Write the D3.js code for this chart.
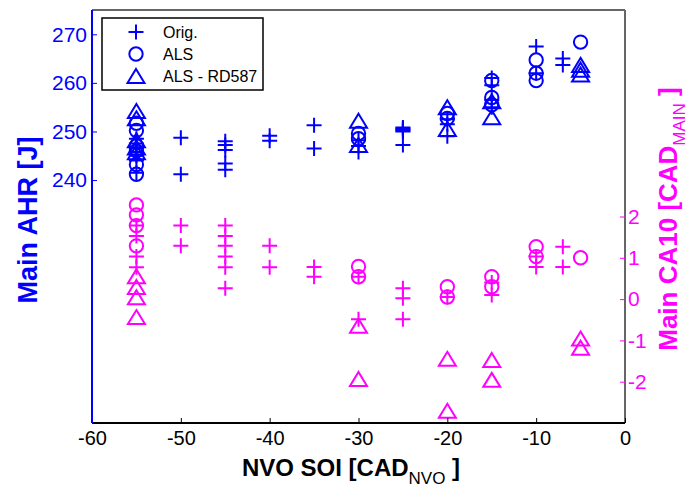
<!DOCTYPE html>
<meta charset="utf-8">
<html>
<head><title>AHR and CA10 vs NVO SOI</title>
<script src="https://cdn.jsdelivr.net/npm/d3@7"></script>
<style>
    body { margin: 0; background: #fff; }
    text { font-family: "Liberation Sans", Arial, sans-serif; }
</style>
</head>
<body>
<script>
// tick values
var soiTicks = [-60, -50, -40, -30, -20, -10, 0];
var ahrTicks = [240, 250, 260, 270];
var ca10Ticks = [-2, -1, 0, 1, 2];

// [NVO SOI, Main AHR] - left axis (blue)
var ahrOrig = [
    [-55, 248.5], [-55, 247.5], [-55, 246.5], [-55, 245.8], [-55, 245], [-55, 244], [-55, 241.5],
    [-50, 248.7], [-50, 241.2],
    [-45, 248], [-45, 247.2], [-45, 246.2], [-45, 243.4], [-45, 242.1],
    [-40, 249.1], [-40, 248.1],
    [-35, 251.3], [-35, 246.5],
    [-30, 248.2], [-30, 247], [-30, 245.8],
    [-25, 250.8], [-25, 250.6], [-25, 250.4], [-25, 250.2], [-25, 250], [-25, 247.2],
    [-20, 252.5], [-20, 251.5], [-20, 249],
    [-15, 261], [-15, 259.5], [-15, 256.5], [-15, 255],
    [-10, 267.5], [-10, 262],
    [-7, 265], [-7, 263.7]
];
var ahrAls = [
    [-55, 251.7], [-55, 250.2], [-55, 247], [-55, 246], [-55, 243.2], [-55, 241.2],
    [-30, 249.6], [-30, 248.5],
    [-20, 253.7], [-20, 252.7],
    [-15, 260.5], [-15, 257], [-15, 255.5],
    [-10, 264.7], [-10, 262], [-10, 260.5],
    [-5, 268.4]
];
var ahrRd = [
    [-55, 254], [-55, 252.5], [-55, 248], [-55, 246.5], [-55, 245.5],
    [-30, 252], [-30, 247],
    [-20, 254.8], [-20, 250.3],
    [-15, 256], [-15, 252.7],
    [-5, 263.5], [-5, 262.5], [-5, 261.5]
];

// [NVO SOI, Main CA10] - right axis (magenta)
var ca10Orig = [
    [-55, 1.78], [-55, 1.53], [-55, 1.03], [-55, 0.77],
    [-50, 1.78], [-50, 1.29],
    [-45, 1.78], [-45, 1.53], [-45, 1.29], [-45, 1.03], [-45, 0.77], [-45, 0.26],
    [-40, 1.29], [-40, 0.77],
    [-35, 0.78], [-35, 0.54],
    [-30, 0.54], [-30, -0.49],
    [-25, 0.26], [-25, 0.02], [-25, -0.49],
    [-20, 0.05],
    [-15, 0.4], [-15, 0.1],
    [-10, 1.03], [-10, 0.78],
    [-7, 1.27], [-7, 0.78]
];
var ca10Als = [
    [-55, 2.28], [-55, 2.04], [-55, 1.78], [-55, 1.29],
    [-30, 0.79], [-30, 0.54],
    [-20, 0.3], [-20, 0.05],
    [-15, 0.54], [-15, 0.3],
    [-10, 1.27], [-10, 1.03],
    [-5, 1.0]
];
var ca10Rd = [
    [-55, 0.53], [-55, 0.27], [-55, 0.02], [-55, -0.46],
    [-30, -0.67], [-30, -1.96],
    [-20, -1.47], [-20, -2.73],
    [-15, -1.5], [-15, -1.98],
    [-5, -0.98], [-5, -1.2]
];

var legendNames = ["Orig.", "ALS", "ALS - RD587"];

var W = 697, H = 489;
// plot box (don't call these top/left etc, window.top is read-only)
var boxL = 92, boxR = 625, boxT = 10, boxB = 423;
var blue = "#0000ff", magenta = "#ff00ff";

var x = d3.scaleLinear().domain([-60, 0]).range([boxL, boxR]);
var yL = d3.scaleLinear().domain([190, 275]).range([boxB, boxT]);
var yR = d3.scaleLinear().domain([-3, 7]).range([boxB, boxT]);

// marker shapes (outline only, like matlab)
var markers = {
    plus: "M-7.5,0H7.5M0,-7.5V7.5",
    circle: d3.symbol().type(d3.symbolCircle).size(140)(),
    tri: "M0,-8L8.5,6H-8.5Z"
};

var svg = d3.select("body").append("svg")
    .attr("width", W)
    .attr("height", H);

svg.append("rect").attr("width", W).attr("height", H).attr("fill", "#fff");

function drawSeries(data, yScale, shape, color) {
    svg.append("g").selectAll("path")
        .data(data)
        .enter().append("path")
        .attr("d", markers[shape])
        .attr("transform", function(d) { return "translate(" + x(d[0]) + "," + yScale(d[1]) + ")"; })
        .attr("fill", "none")
        .attr("stroke", color)
        .attr("stroke-width", 2);
}

drawSeries(ahrOrig, yL, "plus", blue);
drawSeries(ahrAls, yL, "circle", blue);
drawSeries(ahrRd, yL, "tri", blue);
drawSeries(ca10Orig, yR, "plus", magenta);
drawSeries(ca10Als, yR, "circle", magenta);
drawSeries(ca10Rd, yR, "tri", magenta);

// frame
svg.append("line").attr("x1", boxL).attr("x2", boxR).attr("y1", boxT).attr("y2", boxT)
    .attr("stroke", "#666").attr("stroke-width", 2);
svg.append("line").attr("x1", boxR).attr("x2", boxR).attr("y1", boxT).attr("y2", boxB)
    .attr("stroke", "#666").attr("stroke-width", 2);
svg.append("line").attr("x1", boxL).attr("x2", boxR).attr("y1", boxB).attr("y2", boxB)
    .attr("stroke", "#000").attr("stroke-width", 2);

// axes
var xAxis = svg.append("g")
    .attr("transform", "translate(0," + boxB + ")")
    .call(d3.axisBottom(x).tickValues(soiTicks).tickSize(-5).tickPadding(8)
        .tickFormat(function(d) { return String(d); }));
xAxis.selectAll("line").attr("stroke", "#000");
xAxis.selectAll("text").attr("fill", "#000").style("font-size", "20px");

var lAxis = svg.append("g")
    .attr("transform", "translate(" + boxL + ",0)")
    .call(d3.axisLeft(yL).tickValues(ahrTicks).tickSize(-5).tickPadding(5));
lAxis.selectAll("line").attr("stroke", blue);
lAxis.selectAll("text").attr("fill", blue).style("font-size", "21px");

var rAxis = svg.append("g")
    .attr("transform", "translate(" + boxR + ",0)")
    .call(d3.axisRight(yR).tickValues(ca10Ticks).tickSize(-5).tickPadding(3)
        .tickFormat(function(d) { return String(d); }));
rAxis.selectAll("line").attr("stroke", magenta);
rAxis.selectAll("text").attr("fill", magenta).style("font-size", "21px");

svg.selectAll(".domain").remove();

// left axis line drawn blue over the frame
svg.append("line").attr("x1", boxL).attr("x2", boxL).attr("y1", boxT).attr("y2", boxB)
    .attr("stroke", blue).attr("stroke-width", 2);

// axis titles
var xt = svg.append("text")
    .attr("x", 351).attr("y", 476)
    .attr("text-anchor", "middle")
    .style("font-size", "24px").style("font-weight", "bold");
xt.append("tspan").text("NVO SOI [CAD");
xt.append("tspan").attr("dy", 8).style("font-size", "17px").style("font-weight", "normal").text("NVO");
xt.append("tspan").attr("dy", -8).text(" ]");

svg.append("text")
    .attr("transform", "translate(37,220) rotate(-90)")
    .attr("text-anchor", "middle")
    .attr("fill", blue)
    .style("font-size", "27px").style("font-weight", "bold")
    .text("Main AHR [J]");

var rt = svg.append("text")
    .attr("transform", "translate(677,219) rotate(-90)")
    .attr("text-anchor", "middle")
    .attr("fill", magenta)
    .style("font-size", "26px").style("font-weight", "bold");
rt.append("tspan").text("Main CA10 [CAD");
rt.append("tspan").attr("dy", 8).style("font-size", "17px").style("font-weight", "normal").text("MAIN");
rt.append("tspan").attr("dy", -8).text(" ]");

// legend
var lg = svg.append("g").attr("transform", "translate(102,18)");
lg.append("rect").attr("width", 161).attr("height", 72)
    .attr("fill", "#fff").attr("stroke", "#000").attr("stroke-width", 1.5);
var shapes = ["plus", "circle", "tri"];
legendNames.forEach(function(name, i) {
    var yy = 14 + i * 22;
    lg.append("path").attr("d", markers[shapes[i]])
        .attr("transform", "translate(34," + (yy + (i == 2 ? 1 : 0)) + ")")
        .attr("fill", "none").attr("stroke", blue).attr("stroke-width", 2);
    lg.append("text").attr("x", 61).attr("y", yy).attr("dy", "0.36em")
        .style("font-size", "16px").attr("fill", "#000").text(name);
});
</script>
</body>
</html>
